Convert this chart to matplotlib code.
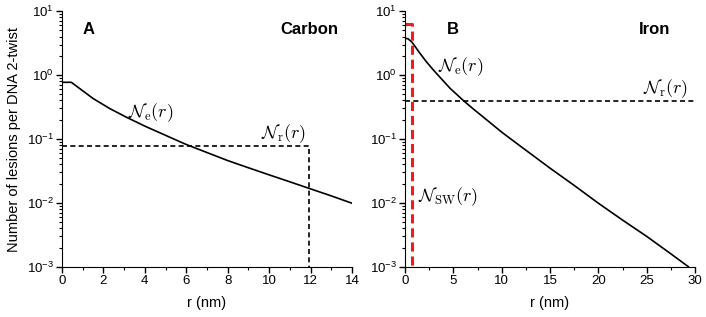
import numpy as np
import matplotlib.pyplot as plt
from matplotlib.ticker import LogLocator, MultipleLocator, NullFormatter

plt.rcParams['font.family'] = ['Liberation Sans', 'DejaVu Sans']
plt.rcParams['mathtext.fontset'] = 'custom'
plt.rcParams['mathtext.rm'] = 'Liberation Sans'
plt.rcParams['mathtext.it'] = 'Liberation Sans:italic'

# ---------------- data ----------------
# Panel A, carbon
r_c = [0.0, 0.45, 0.87, 1.5, 2.3, 3.1, 4.0, 4.7, 6.0, 7.0, 8.0, 9.0, 10.0, 11.0, 12.0, 13.0, 14.0]
ne_c = [0.77, 0.77, 0.61, 0.43, 0.30, 0.22, 0.159, 0.126, 0.082, 0.0614, 0.046, 0.0355, 0.0275, 0.0214, 0.0166, 0.0129, 0.0099]
nr_c_level = 0.079
nr_c_r = 11.9

# Panel B, iron
r_f = [0.0, 0.3, 0.69, 1.0, 1.55, 2.2, 2.93, 3.8, 4.66, 6.03, 7.0, 8.1, 10.0, 12.0, 15.0, 17.5, 20.0, 22.5, 25.0, 27.5, 29.3]
ne_f = [3.74, 3.7, 3.3, 2.85, 2.18, 1.62, 1.2, 0.86, 0.62, 0.40, 0.30, 0.22, 0.128, 0.076, 0.035, 0.0188, 0.0099, 0.0054, 0.0030, 0.0016, 0.00101]
nr_f_level = 0.39
nsw_level = 6.3
nsw_r = 0.7

fig = plt.figure(figsize=(7.06, 3.17), dpi=100)
axA = fig.add_axes([0.0878, 0.158, 0.4108, 0.807])
axB = fig.add_axes([0.5737, 0.158, 0.4108, 0.807])

cm_kw = dict(math_fontfamily='cm', fontsize=13)

# ---------------- panel A ----------------
axA.plot(r_c, ne_c, color='black', lw=1.2)
axA.plot([0, nr_c_r, nr_c_r], [nr_c_level, nr_c_level, 1e-3], color='black', lw=1.2, ls=(0, (3, 2)))
axA.set_xlim(0, 14)
axA.xaxis.set_major_locator(MultipleLocator(2))
axA.xaxis.set_minor_locator(MultipleLocator(1))
axA.text(3.2, 0.22, r'$\mathcal{N}_{\rm e}(r)$', **cm_kw)
axA.text(9.6, 0.105, r'$\mathcal{N}_{\rm r}(r)$', **cm_kw)
axA.text(0.07, 0.93, 'A', transform=axA.transAxes, fontsize=12, fontweight='bold', va='center')
axA.text(0.953, 0.93, 'Carbon', transform=axA.transAxes, fontsize=12, fontweight='bold', va='center', ha='right')
axA.set_ylabel('Number of lesions per DNA 2-twist', fontsize=10.5, labelpad=4)

# ---------------- panel B ----------------
axB.plot(r_f, ne_f, color='black', lw=1.2)
axB.axhline(nr_f_level, color='black', lw=1.2, ls=(0, (3, 2)))
axB.plot([0, nsw_r, nsw_r], [nsw_level, nsw_level, 1e-3], color='#ee1c1c', lw=2.2, ls=(0, (3, 1.6)))
axB.set_xlim(0, 30)
axB.xaxis.set_major_locator(MultipleLocator(5))
axB.xaxis.set_minor_locator(MultipleLocator(2.5))
axB.text(3.4, 1.15, r'$\mathcal{N}_{\rm e}(r)$', **cm_kw)
axB.text(24.6, 0.52, r'$\mathcal{N}_{\rm r}(r)$', **cm_kw)
axB.text(1.35, 0.0105, r'$\mathcal{N}_{\rm SW}(r)$', **cm_kw)
axB.text(0.145, 0.93, 'B', transform=axB.transAxes, fontsize=12, fontweight='bold', va='center')
axB.text(0.914, 0.93, 'Iron', transform=axB.transAxes, fontsize=12, fontweight='bold', va='center', ha='right')

for ax in (axA, axB):
    ax.set_yscale('log')
    ax.set_ylim(1e-3, 10)
    ax.yaxis.set_major_locator(LogLocator(base=10, numticks=10))
    ax.yaxis.set_minor_locator(LogLocator(base=10, subs=np.arange(2, 10), numticks=10))
    ax.yaxis.set_minor_formatter(NullFormatter())
    ax.spines['top'].set_visible(False)
    ax.spines['right'].set_visible(False)
    ax.tick_params(which='major', direction='out', length=4, width=1, labelsize=9.5, pad=2)
    ax.tick_params(which='minor', direction='out', length=2, width=0.8)
    ax.set_xlabel('r (nm)', fontsize=10.5, labelpad=6)

fig.savefig('out.png', dpi=100)
